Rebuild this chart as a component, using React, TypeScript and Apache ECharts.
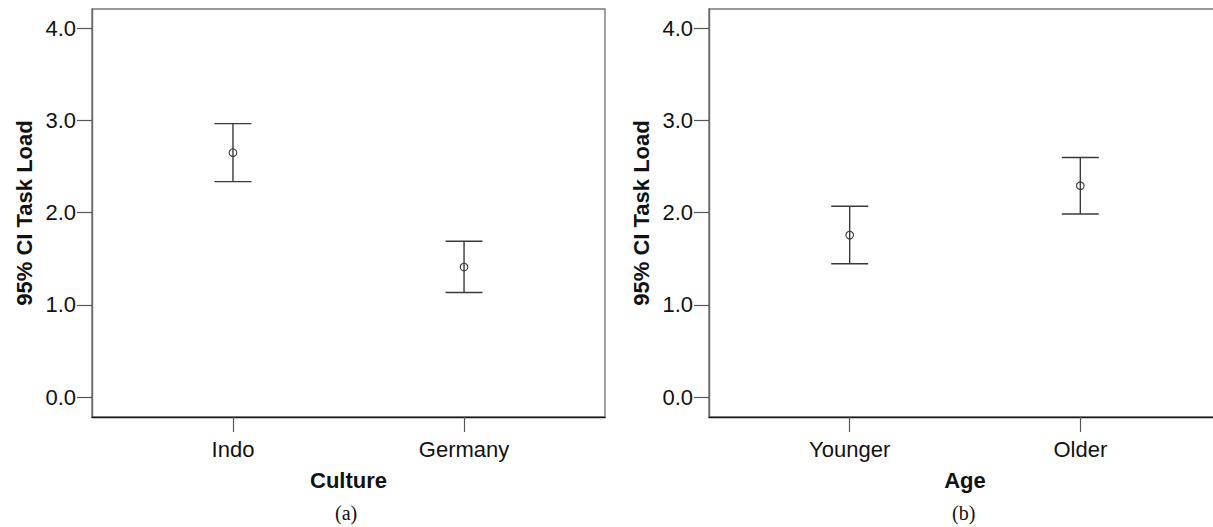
import React, { useEffect, useRef } from "react";
import * as echarts from "echarts";

const yTicks = [0, 1, 2, 3, 4];
const cultureCats = ["Indo", "Germany"];
const cultureMean = [2.652, 1.41];
const cultureLow = [2.337, 1.134];
const cultureHigh = [2.967, 1.69];
const ageCats = ["Younger", "Older"];
const ageMean = [1.757, 2.293];
const ageLow = [1.446, 1.986];
const ageHigh = [2.07, 2.6];
const yTitle = "95% CI Task Load";
const panelTitles = ["Culture", "Age"];
const captions = ["(a)", "(b)"];

const FONT = "'Liberation Sans', Arial, sans-serif";
const ERR = "#3a3a3a";

function renderErr(params: any, api: any) {
  const x = api.value(0);
  const lo = api.coord([x, api.value(1)]);
  const hi = api.coord([x, api.value(2)]);
  const m = api.coord([x, api.value(3)]);
  const hw = 18.5;
  const style = { stroke: ERR, lineWidth: 1.4, fill: "none" };
  return {
    type: "group",
    children: [
      { type: "line", shape: { x1: hi[0], y1: hi[1], x2: lo[0], y2: lo[1] }, style },
      { type: "line", shape: { x1: hi[0] - hw, y1: hi[1], x2: hi[0] + hw, y2: hi[1] }, style },
      { type: "line", shape: { x1: lo[0] - hw, y1: lo[1], x2: lo[0] + hw, y2: lo[1] }, style },
      { type: "circle", shape: { cx: m[0], cy: m[1], r: 3.8 }, style: { stroke: ERR, lineWidth: 1.1, fill: "none" } },
    ],
  };
}

export default function App() {
  const ref = useRef<HTMLDivElement>(null);
  useEffect(() => {
    if (!ref.current) return;
    const chart = echarts.init(ref.current, null, { renderer: "svg" });
    const grids = [
      { left: 92, top: 9, width: 513, height: 408 },
      { left: 709, top: 9, width: 512, height: 408 },
    ];
    const catsList = [cultureCats, ageCats];
    const xAxes = grids.map((g, i) => ({
      type: "value",
      gridIndex: i,
      min: -0.61,
      max: 1.61,
      name: panelTitles[i],
      nameLocation: "middle",
      nameGap: 52,
      nameTextStyle: { fontFamily: FONT, fontSize: 22, fontWeight: "bold", color: "#111" },
      axisLine: { show: true, onZero: false, lineStyle: { color: "#1a1a1a", width: 1.4 } },
      axisTick: { show: true, length: 15, customValues: [0, 1], lineStyle: { color: "#555", width: 1.2 } },
      axisLabel: {
        show: true,
        customValues: [0, 1],
        margin: 21,
        fontFamily: FONT,
        fontSize: 22,
        color: "#111",
        formatter: (v: number) => catsList[i][Math.round(v)] ?? "",
      },
      splitLine: { show: false },
    }));
    const yAxes = grids.map((g, i) => ({
      type: "value",
      gridIndex: i,
      min: -0.217,
      max: 4.211,
      name: yTitle,
      nameLocation: "middle",
      nameRotate: 90,
      nameGap: 57,
      nameTextStyle: { fontFamily: FONT, fontSize: 22, fontWeight: "bold", color: "#111" },
      axisLine: { show: true, onZero: false, lineStyle: { color: "#666", width: 1.4 } },
      axisTick: { show: true, length: 15, customValues: yTicks, lineStyle: { color: "#555", width: 1.2 } },
      axisLabel: {
        show: true,
        customValues: yTicks,
        margin: 16,
        fontFamily: FONT,
        fontSize: 22,
        color: "#111",
        formatter: (v: number) => v.toFixed(1),
      },
      splitLine: { show: false },
    }));
    const mk = (mean: number[], lo: number[], hi: number[]) => mean.map((m, k) => [k, lo[k], hi[k], m]);
    chart.setOption({
      animation: false,
      backgroundColor: "#fff",
      grid: grids.map((g) => ({ ...g, show: true, borderColor: "#7a7a7a", borderWidth: 1.4, backgroundColor: "transparent" })),
      xAxis: xAxes,
      yAxis: yAxes,
      series: [
        { type: "custom", xAxisIndex: 0, yAxisIndex: 0, renderItem: renderErr, data: mk(cultureMean, cultureLow, cultureHigh), clip: false },
        { type: "custom", xAxisIndex: 1, yAxisIndex: 1, renderItem: renderErr, data: mk(ageMean, ageLow, ageHigh), clip: false },
      ],
      graphic: [
        { type: "text", left: 348 - 13, top: 503, style: { text: captions[0], font: "20px 'Liberation Serif'", fill: "#111" } },
        { type: "text", left: 965 - 13, top: 503, style: { text: captions[1], font: "20px 'Liberation Serif'", fill: "#111" } },
      ],
    });
    return () => chart.dispose();
  }, []);
  return (
    <div style={{ position: "fixed", left: 0, top: 0, width: 1213, height: 527, overflow: "hidden" }}>
      <div ref={ref} style={{ width: 1250, height: 527 }} />
    </div>
  );
}
